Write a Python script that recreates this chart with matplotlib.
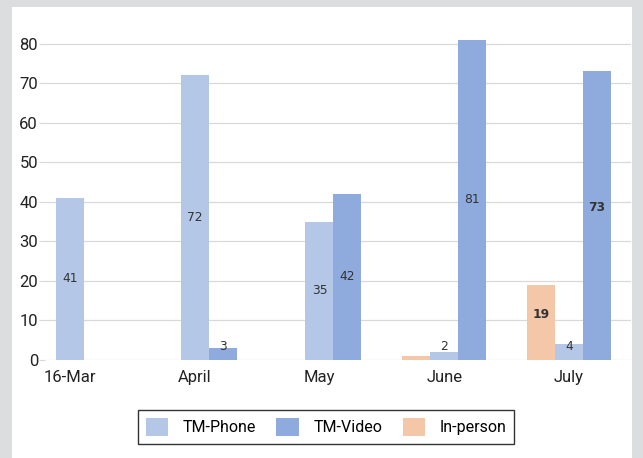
import matplotlib.pyplot as plt
import numpy as np
from matplotlib.patches import Rectangle

# Dados
meses = ["16-Mar", "April", "May", "June", "July"]
tm_phone = [41, 72, 35, 2, 4]
tm_video = [0, 3, 42, 81, 73]
in_person = [0, 0, 0, 1, 19]
destaque = ["19", "73"]  # rótulos em negrito

plt.rcParams['font.family'] = ['Liberation Sans Narrow', 'Roboto', 'DejaVu Sans']

fig = plt.figure(figsize=(6.43, 4.58), dpi=100)
fig.patch.set_facecolor('#dcdddf')
# painel branco
fig.add_artist(Rectangle((12 / 643, 0), 620 / 643, 1 - 7 / 458, transform=fig.transFigure,
                         facecolor='white', edgecolor='none', zorder=-5))

ax = fig.add_axes([45 / 643, 1 - 360 / 458, 586 / 643, 336 / 458])
ax.set_facecolor('none')

x = np.arange(len(meses))
w = 0.224
cores = {'phone': '#b4c7e7', 'video': '#8faadc', 'inperson': '#f4c7a8'}

barras_in = ax.bar(x - w, in_person, w, color=cores['inperson'], zorder=3)
barras_ph = ax.bar(x, tm_phone, w, color=cores['phone'], zorder=3)
barras_vi = ax.bar(x + w, tm_video, w, color=cores['video'], zorder=3)

# Rótulos dos valores (no centro da barra, acima se for muito pequena)
for grupo, valores in [(barras_in, in_person), (barras_ph, tm_phone), (barras_vi, tm_video)]:
    for b, v in zip(grupo, valores):
        if v <= 1:
            continue
        txt = str(v)
        peso = 'bold' if txt in destaque else 'normal'
        y = max(v / 2, 3.3)
        if txt in destaque:
            y += 2
        ax.text(b.get_x() + b.get_width() / 2, y, txt, ha='center', va='center',
                fontsize=8.8, color='#333333', family='DejaVu Sans', weight=peso, zorder=4)

ax.set_xlim(-0.2, 4.497)
ax.set_ylim(0, 85)
ax.set_yticks(range(0, 81, 10))
ax.set_xticks(x)
ax.set_xticklabels(meses)
ax.grid(axis='y', color='#d9d9d9', linewidth=0.9, zorder=0)
for s in ax.spines.values():
    s.set_visible(False)
ax.tick_params(axis='y', length=4, color='#d9d9d9', labelsize=12, labelcolor='#222222', pad=1)
ax.tick_params(axis='x', length=0, labelsize=12, labelcolor='#222222', pad=7)

leg = fig.legend([barras_ph, barras_vi, barras_in], ["TM-Phone", "TM-Video", "In-person"],
                 loc='center', bbox_to_anchor=(326 / 643, 1 - 427 / 458), ncol=3,
                 fontsize=11.5, frameon=True, fancybox=False, edgecolor='black',
                 handlelength=1.4, handleheight=1.4, columnspacing=1.3, handletextpad=0.9,
                 borderpad=0.5)
leg.get_frame().set_linewidth(1.0)

plt.savefig('out.png', dpi=100, facecolor=fig.get_facecolor())
plt.close()
